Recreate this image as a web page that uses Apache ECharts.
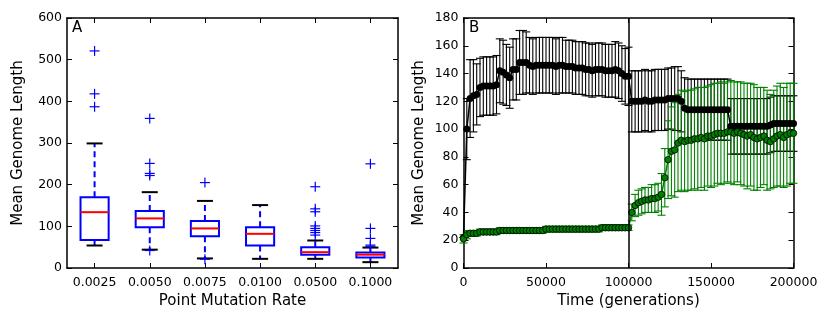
<!DOCTYPE html>
<html>
<head>
<meta charset="utf-8">
<script src="https://cdn.jsdelivr.net/npm/echarts@6/dist/echarts.min.js"></script>
<style>
  html, body { margin: 0; padding: 0; background: #fff; }
  #chart { width: 831px; height: 322px; }
</style>
</head>
<body>
<div id="chart"></div>
<script>
// panel A: boxplot stats per point mutation rate
const boxCategories = ['0.0025', '0.0050', '0.0075', '0.0100', '0.0500', '0.1000']
const boxLow = [54, 44, 23, 22, 22, 14]
const boxQ1 = [67, 98, 76, 54, 32, 25]
const boxMedian = [134, 119, 95, 82, 38, 32]
const boxQ3 = [170, 137, 113, 98, 50, 37]
const boxHigh = [299, 182, 161, 151, 66, 49]
const boxOutliers = [
  [521, 418, 387],
  [359, 251, 227, 222, 42],
  [205, 21],
  [],
  [195, 142, 135, 101, 95, 90, 85, 79],
  [250, 95, 71, 55, 52]
]
const leftTicks = [0, 100, 200, 300, 400, 500, 600]

// panel B: mean genome length over time, two treatments
const switchGen = 100000
const gens = [
  0, 2000, 4000, 6000, 8000, 10000, 12000, 14000, 16000, 18000,
  20000, 22000, 24000, 26000, 28000, 30000, 32000, 34000, 36000, 38000,
  40000, 42000, 44000, 46000, 48000, 50000, 52000, 54000, 56000, 58000,
  60000, 62000, 64000, 66000, 68000, 70000, 72000, 74000, 76000, 78000,
  80000, 82000, 84000, 86000, 88000, 90000, 92000, 94000, 96000, 98000,
  100000, 102000, 104000, 106000, 108000, 110000, 112000, 114000, 116000, 118000,
  120000, 122000, 124000, 126000, 128000, 130000, 132000, 134000, 136000, 138000,
  140000, 142000, 144000, 146000, 148000, 150000, 152000, 154000, 156000, 158000,
  160000, 162000, 164000, 166000, 168000, 170000, 172000, 174000, 176000, 178000,
  180000, 182000, 184000, 186000, 188000, 190000, 192000, 194000, 196000, 198000,
  200000
]
const blackMean = [
  22, 100, 122, 124, 125, 130, 131, 131, 131, 131,
  132, 142, 141, 139, 137, 143, 143, 148, 148, 148,
  146, 145, 146, 146, 146, 146, 146, 146, 145, 146,
  146, 145, 145, 145, 144, 144, 144, 143, 143, 142,
  143, 143, 143, 142, 142, 142, 143, 142, 140, 138,
  138, 120, 120, 120, 120, 121, 120, 120, 121, 121,
  121, 121, 122, 122, 122, 122, 120, 115, 114, 114,
  114, 114, 114, 114, 114, 114, 114, 114, 114, 114,
  114, 102, 102, 102, 102, 102, 102, 102, 102, 102,
  102, 102, 102, 103, 104, 104, 104, 104, 104, 104,
  104
]
const blackStd = [
  0, 22, 28, 26, 22, 21, 21, 21, 21, 21,
  21, 23, 23, 22, 22, 22, 22, 23, 23, 22,
  20, 20, 20, 20, 20, 20, 20, 20, 20, 20,
  20, 19, 19, 19, 19, 19, 19, 19, 19, 19,
  19, 19, 19, 19, 19, 19, 20, 20, 20, 20,
  21, 22, 22, 22, 22, 22, 22, 22, 22, 22,
  22, 22, 22, 22, 23, 23, 22, 22, 22, 22,
  22, 22, 22, 22, 22, 22, 22, 22, 22, 22,
  22, 20, 20, 20, 20, 20, 20, 20, 20, 20,
  20, 20, 20, 20, 20, 20, 20, 20, 20, 20,
  20
]
const greenMean = [
  21, 24, 25, 25, 25, 26, 26, 26, 26, 26,
  26, 27, 27, 27, 27, 27, 27, 27, 27, 27,
  27, 27, 27, 27, 27, 28, 28, 28, 28, 28,
  28, 28, 28, 28, 28, 28, 28, 28, 28, 28,
  28, 28, 29, 29, 29, 29, 29, 29, 29, 29,
  29, 40, 45, 47, 48, 49, 49, 50, 50, 51,
  53, 65, 78, 84, 85, 90, 92, 91, 92, 92,
  93, 93, 94, 93, 95, 95, 96, 97, 97, 97,
  98, 98, 97, 98, 97, 96, 95, 96, 94, 93,
  94, 95, 92, 91, 93, 95, 96, 94, 96, 97,
  97
]
const greenStd = [
  3, 3, 2, 2, 2, 2, 2, 2, 2, 2,
  2, 2, 2, 2, 2, 2, 2, 2, 2, 2,
  2, 2, 2, 2, 2, 2, 2, 2, 2, 2,
  2, 2, 2, 2, 2, 2, 2, 2, 2, 2,
  2, 2, 2, 2, 2, 2, 2, 2, 2, 2,
  2, 6, 8, 9, 9, 9, 9, 10, 10, 10,
  15, 21, 28, 32, 34, 35, 36, 36, 36, 36,
  36, 37, 36, 37, 36, 37, 37, 36, 37, 36,
  36, 37, 37, 36, 37, 37, 38, 37, 38, 37,
  36, 35, 36, 34, 35, 36, 37, 36, 37, 36,
  36
]

const FONT = 'DejaVu Sans'
const BLUE = '#0000ff'
const GREEN = '#008000'

const boxData = boxCategories.map((c, i) => [i, boxLow[i], boxQ1[i], boxMedian[i], boxQ3[i], boxHigh[i]])
const flierData = []
boxOutliers.forEach((vals, i) => vals.forEach(v => flierData.push([i, v])))
const blackErr = gens.map((g, i) => [g, blackMean[i], blackStd[i]])
const greenErr = gens.map((g, i) => [g, greenMean[i], greenStd[i]])

function renderBox(params, api) {
  const i = api.value(0)
  const band = api.size([1, 0])[0]
  const hw = band * 0.255, cw = band * 0.145
  const low = api.coord([i, api.value(1)])
  const q1 = api.coord([i, api.value(2)])
  const med = api.coord([i, api.value(3)])
  const q3 = api.coord([i, api.value(4)])
  const high = api.coord([i, api.value(5)])
  const x = low[0]
  const whisker = { stroke: BLUE, lineWidth: 2, lineDash: [6, 4] }
  return {
    type: 'group',
    children: [
      { type: 'line', shape: { x1: x, y1: q3[1], x2: x, y2: high[1] }, style: whisker },
      { type: 'line', shape: { x1: x, y1: q1[1], x2: x, y2: low[1] }, style: whisker },
      { type: 'rect', shape: { x: x - hw, y: q3[1], width: hw * 2, height: q1[1] - q3[1] },
        style: { fill: 'none', stroke: BLUE, lineWidth: 2 } },
      { type: 'line', shape: { x1: x - hw, y1: med[1], x2: x + hw, y2: med[1] },
        style: { stroke: '#ff0000', lineWidth: 2 } },
      { type: 'line', shape: { x1: x - cw, y1: high[1], x2: x + cw, y2: high[1] },
        style: { stroke: '#000', lineWidth: 2 } },
      { type: 'line', shape: { x1: x - cw, y1: low[1], x2: x + cw, y2: low[1] },
        style: { stroke: '#000', lineWidth: 2 } }
    ]
  }
}

function renderFlier(params, api) {
  const p = api.coord([api.value(0), api.value(1)])
  const s = 5
  const st = { stroke: BLUE, lineWidth: 1.2 }
  return {
    type: 'group',
    children: [
      { type: 'line', shape: { x1: p[0] - s, y1: p[1], x2: p[0] + s, y2: p[1] }, style: st },
      { type: 'line', shape: { x1: p[0], y1: p[1] - s, x2: p[0], y2: p[1] + s }, style: st }
    ]
  }
}

function errRenderer(color) {
  return function (params, api) {
    const g = api.value(0), m = api.value(1), sd = api.value(2)
    const top = api.coord([g, m + sd])
    const bot = api.coord([g, m - sd])
    const c = 4
    const st = { stroke: color, lineWidth: 1.1 }
    return {
      type: 'group',
      children: [
        { type: 'line', shape: { x1: top[0], y1: top[1], x2: bot[0], y2: bot[1] }, style: st },
        { type: 'line', shape: { x1: top[0] - c, y1: top[1], x2: top[0] + c, y2: top[1] }, style: st },
        { type: 'line', shape: { x1: bot[0] - c, y1: bot[1], x2: bot[0] + c, y2: bot[1] }, style: st }
      ]
    }
  }
}

const frame = { show: true, onZero: false, lineStyle: { color: '#000', width: 1.5 } }
const tickIn = { show: true, inside: true, length: 5, lineStyle: { color: '#000', width: 1 } }
const catTick = Object.assign({ alignWithLabel: true, interval: 0 }, tickIn)
const lab = { color: '#000', fontFamily: FONT, fontSize: 12.5 }
const nameStyle = { color: '#000', fontFamily: FONT, fontSize: 15 }

const el = document.getElementById('chart')
const chart = echarts.init(el, null, { renderer: 'canvas' })

chart.setOption({
  animation: false,
  backgroundColor: '#fff',
  grid: [
    { left: 67, top: 18, width: 331, height: 250, outerBoundsMode: 'none' },
    { left: 463.5, top: 18, width: 330, height: 250, outerBoundsMode: 'none' }
  ],
  xAxis: [
    { gridIndex: 0, type: 'category', data: boxCategories, position: 'bottom',
      axisLine: frame, axisTick: catTick,
      axisLabel: Object.assign({ margin: 8, interval: 0 }, lab), splitLine: { show: false },
      name: 'Point Mutation Rate', nameLocation: 'middle', nameGap: 25, nameTextStyle: nameStyle },
    { gridIndex: 0, type: 'category', data: boxCategories, position: 'top',
      axisLine: frame, axisTick: catTick,
      axisLabel: { show: false }, splitLine: { show: false } },
    { gridIndex: 1, type: 'value', min: 0, max: 200000, interval: 50000, position: 'bottom',
      axisLine: frame, axisTick: tickIn,
      axisLabel: Object.assign({ margin: 8, formatter: v => String(v) }, lab), splitLine: { show: false },
      name: 'Time (generations)', nameLocation: 'middle', nameGap: 25, nameTextStyle: nameStyle },
    { gridIndex: 1, type: 'value', min: 0, max: 200000, interval: 50000, position: 'top',
      axisLine: frame, axisTick: tickIn, axisLabel: { show: false }, splitLine: { show: false } }
  ],
  yAxis: [
    { gridIndex: 0, type: 'value', min: leftTicks[0], max: leftTicks[leftTicks.length - 1], interval: 100,
      position: 'left', axisLine: frame, axisTick: tickIn,
      axisLabel: Object.assign({ margin: 5 }, lab), splitLine: { show: false },
      name: 'Mean Genome Length', nameLocation: 'middle', nameGap: 41, nameTextStyle: nameStyle },
    { gridIndex: 0, type: 'value', min: 0, max: 600, interval: 100, position: 'right',
      axisLine: frame, axisTick: tickIn, axisLabel: { show: false }, splitLine: { show: false } },
    { gridIndex: 1, type: 'value', min: 0, max: 180, interval: 20, position: 'left',
      axisLine: frame, axisTick: tickIn,
      axisLabel: Object.assign({ margin: 5 }, lab), splitLine: { show: false },
      name: 'Mean Genome Length', nameLocation: 'middle', nameGap: 37, nameTextStyle: nameStyle },
    { gridIndex: 1, type: 'value', min: 0, max: 180, interval: 20, position: 'right',
      axisLine: frame, axisTick: tickIn, axisLabel: { show: false }, splitLine: { show: false } }
  ],
  graphic: [
    { type: 'text', left: 72, top: 21, style: { text: 'A', fill: '#000', font: '15px "DejaVu Sans"' } },
    { type: 'text', left: 469, top: 21, style: { text: 'B', fill: '#000', font: '15px "DejaVu Sans"' } }
  ],
  series: [
    { type: 'custom', xAxisIndex: 0, yAxisIndex: 0, renderItem: renderBox, data: boxData, silent: true },
    { type: 'custom', xAxisIndex: 0, yAxisIndex: 0, renderItem: renderFlier, data: flierData, silent: true },
    { type: 'custom', xAxisIndex: 2, yAxisIndex: 2, renderItem: errRenderer('#000'), data: blackErr, silent: true },
    { type: 'line', xAxisIndex: 2, yAxisIndex: 2, data: gens.map((g, i) => [g, blackMean[i]]),
      symbol: 'circle', symbolSize: 7, showSymbol: true,
      itemStyle: { color: '#000' }, lineStyle: { color: '#000', width: 1.5 }, silent: true,
      markLine: { symbol: 'none', silent: true, label: { show: false },
        lineStyle: { color: '#000', width: 1.5, type: 'solid' }, data: [{ xAxis: switchGen }] } },
    { type: 'custom', xAxisIndex: 2, yAxisIndex: 2, renderItem: errRenderer(GREEN), data: greenErr, silent: true },
    { type: 'line', xAxisIndex: 2, yAxisIndex: 2, data: gens.map((g, i) => [g, greenMean[i]]),
      symbol: 'circle', symbolSize: 6.5, showSymbol: true,
      itemStyle: { color: GREEN, borderColor: '#000', borderWidth: 0.8 },
      lineStyle: { color: GREEN, width: 1.5 }, silent: true }
  ]
})
</script>
</body>
</html>
